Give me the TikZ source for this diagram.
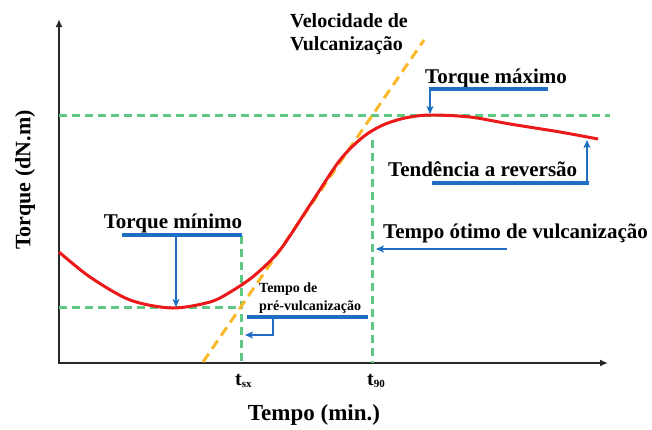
\documentclass[tikz,border=0pt]{standalone}
\usepackage{fontspec}
\setmainfont{Liberation Serif}
\usetikzlibrary{arrows.meta}
\definecolor{cblue}{RGB}{30,110,195}
\definecolor{cgreen}{RGB}{95,200,130}
\definecolor{corange}{RGB}{250,185,40}
\definecolor{cred}{RGB}{235,25,25}
\definecolor{caxis}{RGB}{40,40,40}
\begin{document}
\begin{tikzpicture}[x=1pt,y=-1pt,
  axis/.style={draw=caxis,line width=2.5pt},
  gdash/.style={draw=cgreen,line width=3pt,dash pattern=on 8pt off 5pt},
  odash/.style={draw=corange,line width=3pt,dash pattern=on 10pt off 6pt},
  redc/.style={draw=cred,line width=3pt},
  bbar/.style={draw=cblue,line width=3.5pt},
  barrow/.style={draw=cblue,line width=2.5pt,-{Stealth[length=8pt,width=7pt,inset=2pt]}},
  lab/.style={inner sep=0pt,font=\fontsize{21}{24}\selectfont\bfseries},
  small/.style={inner sep=0pt,font=\fontsize{14}{17}\selectfont\bfseries},
  axl/.style={inner sep=0pt,font=\fontsize{23}{26}\selectfont\bfseries}
]
\useasboundingbox (0,0) rectangle (652,429);

% axes
\coordinate (ytop) at (59,19);
\coordinate (O) at (59,363);
\coordinate (xend) at (608,363);
\draw[axis,{Latex[length=8pt,width=7pt]}-{Latex[length=8pt,width=7pt]}] (ytop) -- (O) -- (xend);

% green guide lines
\coordinate (gmaxL) at (59,115);
\coordinate (gmaxR) at (610,115);
\coordinate (gminL) at (59,307);
\coordinate (gminR) at (241,307);
\coordinate (gsxT) at (241,236);
\coordinate (gsxB) at (241,363);
\coordinate (g90T) at (372,140);
\coordinate (g90B) at (372,363);
\draw[gdash] (gmaxL) -- (gmaxR);
\draw[gdash] (gminL) -- (gminR);
\draw[gdash] (gsxT) -- (gsxB);
\draw[gdash] (g90T) -- (g90B);

% tangent
\coordinate (oB) at (203,362);
\coordinate (oT) at (424,40);
\draw[odash] (oB) -- (oT);

% cure curve
\draw[redc] plot[smooth,tension=0.5] coordinates {
 (59,252) (90,277) (130,300) (172,308) (210,302) (232,291) (255,275)
 (280,250) (310,205) (340,160) (363,137) (383,125) (405,118) (430,115)
 (470,117) (510,124) (560,132) (598,139)};

% Torque minimo
\node[lab,anchor=base] (tmin) at (173,228) {Torque mínimo};
\draw[bbar] (122,235) -- (242,235);
\draw[barrow] (176,235) -- (176,307);

% pre-vulcanizacao
\node[small,anchor=base west] (pv1) at (259,292) {Tempo de};
\node[small,anchor=base west] (pv2) at (259,310) {pré-vulcanização};
\draw[bbar] (247,317) -- (368,317);
\draw[barrow] (273,317) -- (273,335) -- (245,335);

% Torque maximo
\node[lab,anchor=base west] (tmax) at (425,83) {Torque máximo};
\draw[bbar] (429,89) -- (548,89);
\draw[barrow] (430,89) -- (430,114);

% Tendencia a reversao
\node[lab,anchor=base west] (trev) at (388,176) {Tendência a reversão};
\draw[bbar] (432,183) -- (589,183);
\draw[barrow] (587,183) -- (587,140);

% Tempo otimo
\node[lab,anchor=base west] (topt) at (383,238) {Tempo ótimo de vulcanização};
\draw[barrow] (507,249) -- (376,249);

% Velocidade
\node[lab,anchor=base west,font=\fontsize{20}{23}\selectfont\bfseries] (vel1) at (290,27) {Velocidade de};
\node[lab,anchor=base west,font=\fontsize{20}{23}\selectfont\bfseries] (vel2) at (290,50) {Vulcanização};

% ticks
\node[lab,anchor=base west,font=\fontsize{20}{23}\selectfont\bfseries] (tsx) at (235,385) {t\raisebox{-0.3ex}{\fontsize{11}{11}\selectfont sx}};
\node[lab,anchor=base west,font=\fontsize{20}{23}\selectfont\bfseries] (t90) at (367,385) {t\raisebox{-0.3ex}{\fontsize{11}{11}\selectfont 90}};

% axis labels
\node[axl,anchor=base] (xl) at (314,420) {Tempo (min.)};
\node[axl,rotate=90,font=\fontsize{22}{25}\selectfont\bfseries] (yl) at (25,180) {Torque (dN.m)};
\end{tikzpicture}
\end{document}
